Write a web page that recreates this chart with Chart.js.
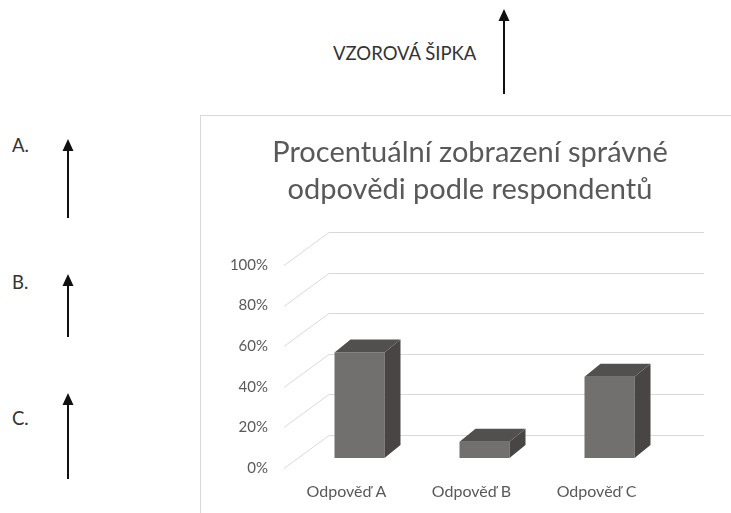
<!DOCTYPE html>
<html>
<head>
<meta charset="utf-8">
<script src="https://cdn.jsdelivr.net/npm/chart.js@4.4.0/dist/chart.umd.min.js"></script>
<style>
  html, body { margin: 0; padding: 0; background: #fff; width: 731px; height: 513px; overflow: hidden; }
  body { position: relative; font-family: Lato, "Open Sans", sans-serif; color: #333; }
  .frame { position: absolute; left: 200px; top: 115px; width: 560px; height: 420px; border: 1px solid #d9d9d9; box-sizing: border-box; }
  .chart-wrap { position: absolute; left: 200px; top: 115px; width: 540px; height: 420px; }
  .note { position: absolute; font-size: 18.5px; line-height: 18px; color: #333; }
  svg.arrows { position: absolute; left: 0; top: 0; }
</style>
</head>
<body>
<div class="note" style="left:333px; top:44px;">VZOROVÁ ŠIPKA</div>
<div class="note" style="left:12px; top:136px;">A.</div>
<div class="note" style="left:12px; top:273px;">B.</div>
<div class="note" style="left:12px; top:409px;">C.</div>

<svg class="arrows" width="731" height="513">
  <g stroke="#111" stroke-width="2" fill="#111">
    <line x1="504" y1="18" x2="504" y2="94" />
    <polygon points="504,9 498.5,21 509.5,21" stroke="none" />
    <line x1="68" y1="148" x2="68" y2="218" />
    <polygon points="68,139 62.5,151 73.5,151" stroke="none" />
    <line x1="68" y1="283" x2="68" y2="337" />
    <polygon points="68,274 62.5,286 73.5,286" stroke="none" />
    <line x1="68" y1="402" x2="68" y2="479" />
    <polygon points="68,393 62.5,405 73.5,405" stroke="none" />
  </g>
</svg>

<div class="frame"></div>
<div class="chart-wrap"><canvas id="chart" width="540" height="420"></canvas></div>

<script>
const categories = ['Odpověď A', 'Odpověď B', 'Odpověď C']
const correctShare = [52, 8, 40]
const yTicks = [0, 20, 40, 60, 80, 100]
const titleLines = ['Procentuální zobrazení správné', 'odpovědi podle respondentů']

// fake 3D: wall depth, bar offset inside the floor, bar depth
const WALL = { dx: 45, dy: -33 }
const BAR_SHIFT = { dx: 13, dy: -10 }
const BAR_DEPTH = { dx: 16, dy: -13 }

const FONT = 'Lato, "Open Sans", sans-serif'
const TEXT = '#595959'

const fake3d = {
  id: 'fake3d',
  beforeDatasetsDraw(chart) {
    const { ctx, chartArea, scales } = chart
    ctx.save()
    ctx.strokeStyle = '#d9d9d9'
    ctx.lineWidth = 1
    yTicks.forEach(v => {
      const y = Math.round(scales.y.getPixelForValue(v)) + 0.5
      ctx.beginPath()
      ctx.moveTo(chartArea.left, y)
      ctx.lineTo(chartArea.left + WALL.dx, y + WALL.dy)
      ctx.lineTo(chartArea.right + WALL.dx, y + WALL.dy)
      ctx.stroke()
    })
    ctx.restore()
  },
  beforeDatasetDraw(chart) {
    chart.ctx.save()
    chart.ctx.translate(BAR_SHIFT.dx, BAR_SHIFT.dy)
  },
  afterDatasetDraw(chart, args) {
    const { ctx } = chart
    args.meta.data.forEach(bar => {
      const { x, y, base, width } = bar.getProps(['x', 'y', 'base', 'width'], true)
      const l = x - width / 2
      const r = x + width / 2
      // side face
      ctx.fillStyle = '#494545'
      ctx.beginPath()
      ctx.moveTo(r, y)
      ctx.lineTo(r + BAR_DEPTH.dx, y + BAR_DEPTH.dy)
      ctx.lineTo(r + BAR_DEPTH.dx, base + BAR_DEPTH.dy)
      ctx.lineTo(r, base)
      ctx.closePath()
      ctx.fill()
      // top face
      ctx.fillStyle = '#524f4f'
      ctx.beginPath()
      ctx.moveTo(l, y)
      ctx.lineTo(l + BAR_DEPTH.dx, y + BAR_DEPTH.dy)
      ctx.lineTo(r + BAR_DEPTH.dx, y + BAR_DEPTH.dy)
      ctx.lineTo(r, y)
      ctx.closePath()
      ctx.fill()
    })
    ctx.restore()
  }
}

new Chart(document.getElementById('chart'), {
  type: 'bar',
  data: {
    labels: categories,
    datasets: [{
      data: correctShare,
      backgroundColor: '#72706f',
      borderWidth: 0,
      barPercentage: 0.4,
      categoryPercentage: 1.0
    }]
  },
  options: {
    responsive: false,
    animation: false,
    events: [],
    layout: { padding: { left: 0, right: 0, top: 0, bottom: 27 } },
    plugins: {
      legend: { display: false },
      tooltip: { enabled: false },
      title: {
        display: true,
        text: titleLines,
        color: TEXT,
        font: { family: FONT, size: 29, weight: 'normal', lineHeight: 1.25 },
        padding: { top: 20, bottom: 57.5 }
      }
    },
    scales: {
      x: {
        grid: { display: false, drawTicks: false },
        border: { display: false },
        ticks: { color: TEXT, font: { family: FONT, size: 16 }, padding: 14 },
        afterFit(scale) { scale.height = 40 }
      },
      y: {
        min: 0,
        max: 100,
        grid: { display: false, drawTicks: false },
        border: { display: false },
        ticks: {
          stepSize: 20,
          color: TEXT,
          font: { family: FONT, size: 15 },
          padding: 16,
          callback: v => v + '%'
        },
        afterFit(scale) { scale.width = 84 }
      },
      // empty right-hand axis only reserves the space for the back wall
      yRight: {
        position: 'right',
        grid: { display: false, drawTicks: false },
        border: { display: false },
        ticks: { display: false },
        afterFit(scale) { scale.width = 81 }
      }
    }
  },
  plugins: [fake3d]
})
</script>
</body>
</html>
